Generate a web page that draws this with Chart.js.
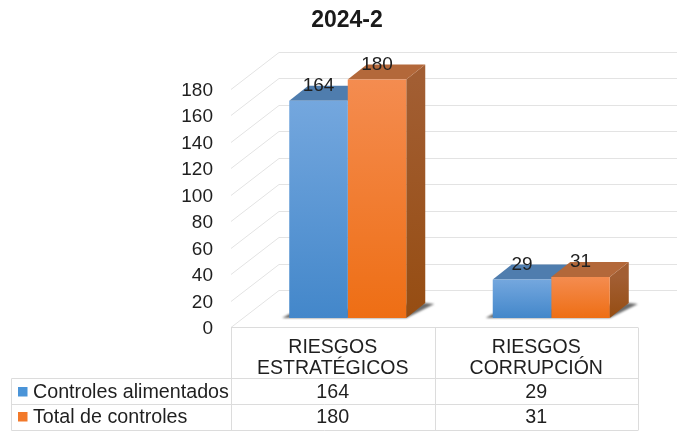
<!DOCTYPE html>
<html>
<head>
<meta charset="utf-8">
<title>2024-2</title>
<script src="https://cdn.jsdelivr.net/npm/chart.js@4/dist/chart.umd.min.js"></script>
<style>
  html, body { margin: 0; padding: 0; background: #fff; }
  canvas { display: block; }
</style>
</head>
<body>
<canvas id="myChart" width="677" height="431"></canvas>
<script>
// chart values
var chartTitle = '2024-2';
var categories = [['RIESGOS', 'ESTRATÉGICOS'], ['RIESGOS', 'CORRUPCIÓN']];
var seriesNames = ['Controles alimentados', 'Total de controles'];
var controlesAlimentados = [164, 29];
var totalControles = [180, 31];
var yTicks = [0, 20, 40, 60, 80, 100, 120, 140, 160, 180];

// colours: [gradient top, gradient bottom, top face, side top, side bottom]
var blueShades = ['#74A7DE', '#4387CA', '#4F7DAE', '#3F6E9E', '#34608C'];
var orangeShades = ['#F48C50', '#EE6E14', '#B3683A', '#A25E33', '#964D12'];
var keyColors = ['#4A94D8', '#F2792A'];
var textColor = '#1f1f1f';
var lineColor = '#E3E3E3';
var fontName = '"Liberation Sans", Arial, sans-serif';

// oblique offsets of the fake 3D box
var labelDrop = 2;                    // tick labels sit a bit under their gridlines
var wallDepth = { x: 48, y: -37.5 };  // front plane to back wall
var barShift = { x: 15, y: -9 - labelDrop }; // front plane to bar front
var barDepth = { x: 19, y: -15 };     // bar front to bar back

function frontGradient(shades) {
  return function (context) {
    var yScale = context.chart.scales.y;
    if (!yScale || context.raw === undefined) return shades[1];
    var top = yScale.getPixelForValue(context.raw), bottom = yScale.getPixelForValue(0);
    if (!isFinite(top) || !isFinite(bottom)) return shades[1]; // scale not laid out yet
    var g = context.chart.ctx.createLinearGradient(0, top, 0, bottom);
    g.addColorStop(0, shades[0]);
    g.addColorStop(1, shades[1]);
    return g;
  };
}

function poly(ctx, pts, fill) {
  ctx.beginPath();
  ctx.moveTo(pts[0][0], pts[0][1]);
  for (var i = 1; i < pts.length; i++) ctx.lineTo(pts[i][0], pts[i][1]);
  ctx.closePath();
  ctx.fillStyle = fill;
  ctx.fill();
}

var box3d = {
  id: 'box3d',
  beforeDatasetsDraw: function (chart) {
    var ctx = chart.ctx, area = chart.chartArea, y = chart.scales.y;

    // side wall and back wall gridlines
    ctx.save();
    ctx.strokeStyle = lineColor;
    ctx.lineWidth = 1;
    yTicks.forEach(function (t) {
      var py = Math.round(y.getPixelForValue(t) - labelDrop) + 0.5;
      var by = Math.round(py + wallDepth.y) + 0.5;
      ctx.beginPath();
      ctx.moveTo(area.left, py);
      ctx.lineTo(area.left + wallDepth.x, by);
      ctx.lineTo(chart.width, by);
      ctx.stroke();
    });
    ctx.restore();

    // everything from here on sits on the bar plane
    ctx.save();
    ctx.translate(barShift.x, barShift.y);

    var blue = chart.getDatasetMeta(0).data;
    var orange = chart.getDatasetMeta(1).data;

    // floor shadow
    ctx.save();
    ctx.filter = 'blur(1.2px)';
    blue.forEach(function (b, i) {
      var l = b.x - b.width / 2, o = orange[i], r = o.x + o.width / 2, base = o.base;
      poly(ctx, [[l - 7, base], [l, base - 4], [r + barDepth.x, base + barDepth.y], [r + barDepth.x + 9, base + barDepth.y + 1], [r, base]], '#6b6b6b');
    });
    ctx.restore();

    // top and side faces, blue first so orange overlaps it
    [[blue, blueShades], [orange, orangeShades]].forEach(function (set) {
      set[0].forEach(function (b) {
        var l = b.x - b.width / 2, r = b.x + b.width / 2, dx = barDepth.x, dy = barDepth.y;
        var g = ctx.createLinearGradient(0, b.y, 0, b.base);
        g.addColorStop(0, set[1][3]);
        g.addColorStop(1, set[1][4]);
        poly(ctx, [[r, b.y], [r + dx, b.y + dy], [r + dx, b.base + dy], [r, b.base]], g);
        poly(ctx, [[l, b.y], [l + dx, b.y + dy], [r + dx, b.y + dy], [r, b.y]], set[1][2]);
      });
    });
  },
  afterDatasetsDraw: function (chart) {
    var ctx = chart.ctx;
    // value labels, still on the bar plane
    ctx.font = '19px ' + fontName;
    ctx.fillStyle = textColor;
    ctx.textAlign = 'center';
    ctx.textBaseline = 'middle';
    [0, 1].forEach(function (d) {
      chart.getDatasetMeta(d).data.forEach(function (b, i) {
        ctx.fillText(chart.data.datasets[d].data[i], b.x, b.y - 15);
      });
    });
    ctx.restore();
  },
  afterDraw: function (chart) {
    var ctx = chart.ctx, area = chart.chartArea, x = chart.scales.x;
    var floorY = area.bottom - labelDrop + 0.5;
    var rowTop = 378.5, rowMid = 404.5, rowBottom = 430.5, keyLeft = 11.5;
    var colEdges = [area.left, (area.left + area.right) / 2, area.right];

    ctx.save();
    ctx.strokeStyle = '#DCDCDC';
    ctx.lineWidth = 1;
    ctx.beginPath();
    ctx.moveTo(area.left, floorY); ctx.lineTo(area.right, floorY);
    ctx.moveTo(keyLeft, rowTop); ctx.lineTo(area.right, rowTop);
    ctx.moveTo(keyLeft, rowMid); ctx.lineTo(area.right, rowMid);
    ctx.moveTo(keyLeft, rowBottom); ctx.lineTo(area.right, rowBottom);
    ctx.moveTo(keyLeft, rowTop); ctx.lineTo(keyLeft, rowBottom);
    colEdges.forEach(function (e) {
      var ex = Math.round(e) + 0.5;
      ctx.moveTo(ex, floorY); ctx.lineTo(ex, rowBottom);
    });
    ctx.stroke();

    // data table rows with legend keys
    ctx.font = '19.7px ' + fontName;
    ctx.textBaseline = 'middle';
    [393, 418].forEach(function (rowY, d) {
      ctx.fillStyle = keyColors[d];
      ctx.fillRect(18, rowY - 6, 9.5, 9.5);
      ctx.fillStyle = textColor;
      ctx.textAlign = 'left';
      ctx.fillText(seriesNames[d], 33, rowY);
      ctx.textAlign = 'center';
      chart.data.datasets[d].data.forEach(function (v, i) {
        ctx.fillText(v, x.getPixelForTick(i), rowY);
      });
    });
    ctx.restore();
  }
};

new Chart(document.getElementById('myChart').getContext('2d'), {
  type: 'bar',
  data: {
    labels: categories,
    datasets: [
      { label: seriesNames[0], data: controlesAlimentados, backgroundColor: frontGradient(blueShades), clip: false },
      { label: seriesNames[1], data: totalControles, backgroundColor: frontGradient(orangeShades), clip: false }
    ]
  },
  plugins: [box3d],
  options: {
    responsive: false,
    animation: false,
    datasets: { bar: { categoryPercentage: 0.575, barPercentage: 1 } },
    layout: { padding: { left: 56, right: 39, top: 0, bottom: 0 } },
    scales: {
      x: {
        grid: { display: false },
        border: { display: false },
        afterFit: function (s) { s.height = 102; },
        ticks: { color: textColor, padding: 0, maxRotation: 0, font: { family: fontName, size: 19.5, lineHeight: 1.08 } }
      },
      y: {
        min: 0,
        max: 180,
        grid: { display: false },
        border: { display: false },
        afterFit: function (s) { s.width = 175; },
        afterBuildTicks: function (s) { s.ticks = yTicks.map(function (v) { return { value: v }; }); },
        ticks: { color: textColor, padding: 10, font: { family: fontName, size: 19 } }
      }
    },
    plugins: {
      legend: { display: false },
      tooltip: { enabled: false },
      title: {
        display: true,
        text: chartTitle,
        color: '#1a1a1a',
        font: { family: fontName, size: 23, weight: 'bold' },
        padding: { top: 6.5, bottom: 56.4 }
      }
    }
  }
});
</script>
</body>
</html>
